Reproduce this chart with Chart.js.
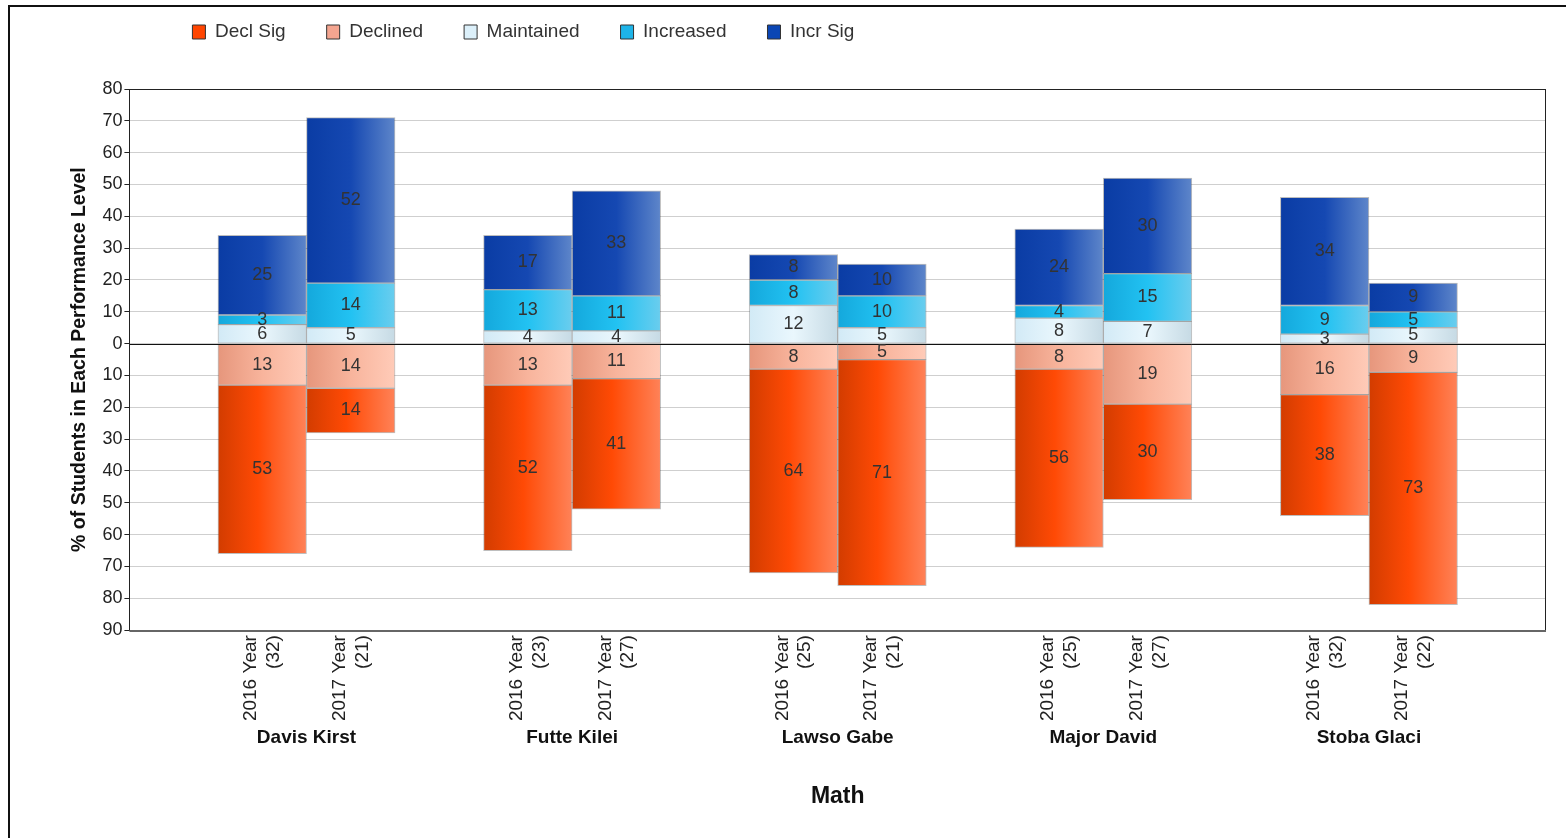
<!DOCTYPE html>
<html><head><meta charset="utf-8">
<script src="https://cdn.jsdelivr.net/npm/chart.js@4.4.1/dist/chart.umd.min.js"></script>
<style>
html,body{margin:0;padding:0;background:#fff;}
#wrap{position:relative;width:1566px;height:838px;overflow:hidden;}
#frame{position:absolute;left:8px;top:5px;right:-4px;bottom:-4px;border-top:2px solid #111;border-left:2px solid #111;pointer-events:none;}
canvas{position:absolute;left:0;top:0;}
</style></head><body>
<div id="wrap"><canvas id="c" width="1566" height="838"></canvas><div id="frame"></div></div>
<script>
// ---- data ----
const teachers = ['Davis Kirst', 'Futte Kilei', 'Lawso Gabe', 'Major David', 'Stoba Glaci'];
const years = ['2016', '2017'];
const counts = [32, 21, 23, 27, 25, 21, 25, 27, 32, 22];
const declSig    = [53, 14, 52, 41, 64, 71, 56, 30, 38, 73];
const declined   = [13, 14, 13, 11,  8,  5,  8, 19, 16,  9];
const maintained = [ 6,  5,  4,  4, 12,  5,  8,  7,  3,  5];
const increased  = [ 3, 14, 13, 11,  8, 10,  4, 15,  9,  5];
const incrSig    = [25, 52, 17, 33,  8, 10, 24, 30, 34,  9];
const yMin = -90, yMax = 80, yStep = 10;

// ---- build slots (a gap slot before each teacher and at the end) ----
const SLOTS = teachers.length * 3 + 1;
const slotOf = b => 1 + 3 * Math.floor(b / 2) + (b % 2);
function toSlots(arr, sign) {
  const out = new Array(SLOTS).fill(null);
  arr.forEach((v, b) => { out[slotOf(b)] = sign * v; });
  return out;
}
const xLabels = new Array(SLOTS).fill('');
counts.forEach((n, b) => { xLabels[slotOf(b)] = [years[b % 2] + ' Year', '(' + n + ')']; });

Chart.defaults.font.family = '"Liberation Sans", Arial, Helvetica, sans-serif';
Chart.defaults.color = '#222';

function grad(stops, flat) {
  return ctx => {
    if (ctx.type !== 'data') return flat;
    const chart = ctx.chart, xs = chart.scales.x;
    if (!chart.chartArea || !xs) return flat;
    const cx = xs.getPixelForValue(ctx.dataIndex);
    const half = (xs.getPixelForValue(1) - xs.getPixelForValue(0)) / 2;
    const g = chart.ctx.createLinearGradient(cx - half, 0, cx + half, 0);
    stops.forEach(s => g.addColorStop(s[0], s[1]));
    return g;
  };
}

const series = [
  { label: 'Decl Sig',   values: declSig,    sign: -1, order: 1, flat: '#FF4500',
    stops: [[0, '#D23C00'], [0.45, '#FF4A05'], [1, '#FF8258']] },
  { label: 'Declined',   values: declined,   sign: -1, order: 0, flat: '#F4A590',
    stops: [[0, '#E6967C'], [0.5, '#F8B49C'], [1, '#FFCBB8']] },
  { label: 'Maintained', values: maintained, sign: 1,  order: 2, flat: '#DCF0FA',
    stops: [[0, '#D2EAF6'], [0.5, '#EAF7FD'], [1, '#C6DAE4']] },
  { label: 'Increased',  values: increased,  sign: 1,  order: 3, flat: '#1EB4E8',
    stops: [[0, '#14A8DC'], [0.5, '#22C2F2'], [1, '#6ACDEE']] },
  { label: 'Incr Sig',   values: incrSig,    sign: 1,  order: 4, flat: '#0B46B4',
    stops: [[0, '#0A3CA4'], [0.5, '#1548B2'], [1, '#5E86CA']] }
];

const datasets = series.map(s => ({
  label: s.label,
  data: toSlots(s.values, s.sign),
  order: s.order,
  backgroundColor: grad(s.stops, s.flat),
  borderColor: 'rgba(40,40,40,0.3)',
  borderWidth: 1,
  borderSkipped: false,
  barPercentage: 1,
  categoryPercentage: 1,
  xAxisID: 'x'
}));

const valueLabels = {
  id: 'valueLabels',
  afterDatasetsDraw(chart) {
    const c = chart.ctx;
    const ys = chart.scales.y, ca = chart.chartArea;
    const y0 = Math.round(ys.getPixelForValue(0)) + 0.5;
    c.save();
    c.strokeStyle = '#111'; c.lineWidth = 1;
    c.beginPath(); c.moveTo(ca.left, y0); c.lineTo(ca.right, y0); c.stroke();
    c.font = '18px "Liberation Sans", Arial, sans-serif';
    c.fillStyle = '#333'; c.textAlign = 'center'; c.textBaseline = 'middle';
    chart.data.datasets.forEach((ds, i) => {
      const meta = chart.getDatasetMeta(i);
      meta.data.forEach((el, j) => {
        const v = ds.data[j];
        if (v === null || v === undefined) return;
        const p = el.getCenterPoint();
        c.fillText(String(Math.abs(v)), p.x, p.y);
      });
    });
    c.restore();
  }
};

const plotFrame = {
  id: 'plotFrame',
  afterDraw(chart) {
    const {left, top, right, bottom} = chart.chartArea;
    const c = chart.ctx;
    c.save();
    c.strokeStyle = '#222'; c.lineWidth = 1;
    c.strokeRect(Math.round(left) + 0.5, Math.round(top) + 0.5, Math.round(right - left) - 1, Math.round(bottom - top));
    c.strokeStyle = '#666'; c.lineWidth = 2;
    c.beginPath(); c.moveTo(left, Math.round(bottom) + 1); c.lineTo(right, Math.round(bottom) + 1); c.stroke();
    c.restore();
  }
};

// nudge the legend block to where the original places it
const legendOffset = {
  id: 'legendOffset',
  afterLayout(chart) {
    const lg = chart.legend;
    if (lg) { lg.left += 22; lg.right += 22; lg.top -= 37.5; lg.bottom -= 37.5; }
  }
};

new Chart(document.getElementById('c'), {
  type: 'bar',
  data: { labels: xLabels, datasets },
  plugins: [valueLabels, plotFrame, legendOffset],
  options: {
    responsive: false,
    animation: false,
    layout: { padding: { left: 64, right: 20, top: 19, bottom: 23.5 } },
    plugins: {
      tooltip: { enabled: false },
      legend: {
        position: 'top',
        align: 'start',
        fullSize: false,
        labels: {
          boxWidth: 13, boxHeight: 14, padding: 41,
          font: { size: 19 }, color: '#333',
          sort: (a, b) => a.datasetIndex - b.datasetIndex,
          generateLabels: chart => chart.data.datasets.map((ds, i) => ({
            text: ds.label, fillStyle: series[i].flat, strokeStyle: '#333',
            lineWidth: 1, hidden: false, datasetIndex: i, fontColor: '#333'
          }))
        }
      }
    },
    scales: {
      x: {
        type: 'category',
        stacked: true,
        offset: true,
        grid: { display: false, drawTicks: false },
        border: { display: false },
        ticks: { autoSkip: false, minRotation: 90, maxRotation: 90, padding: 5, labelOffset: -11,
                 font: { size: 19 }, color: '#222' }
      },
      x2: {
        type: 'linear',
        position: 'bottom',
        weight: 1,
        offset: false,
        min: 0,
        max: SLOTS,
        grid: { display: false, drawTicks: false, offset: false },
        border: { display: false },
        afterBuildTicks: ax => { ax.ticks = teachers.map((t, g) => ({ value: 2 + 3 * g })); },
        ticks: { autoSkip: false, minRotation: 0, maxRotation: 0, padding: 0,
                 font: { size: 19, weight: 'bold' }, color: '#111',
                 callback: (v, i) => teachers[i] },
        title: { display: true, text: 'Math', font: { size: 23, weight: 'bold' }, color: '#111',
                 padding: { top: 34, bottom: 4 } }
      },
      y: {
        stacked: true,
        min: yMin,
        max: yMax,
        ticks: { stepSize: yStep, callback: v => Math.abs(v), font: { size: 18 }, color: '#222', padding: 2 },
        grid: { color: '#cfcfcf', tickLength: 5, tickColor: '#222', drawTicks: true },
        border: { color: '#222' },
        title: { display: true, text: '% of Students in Each Performance Level',
                 font: { size: 19.5, weight: 'bold' }, color: '#111', padding: { top: 4, bottom: 9 } }
      }
    }
  }
});
</script>
</body></html>
